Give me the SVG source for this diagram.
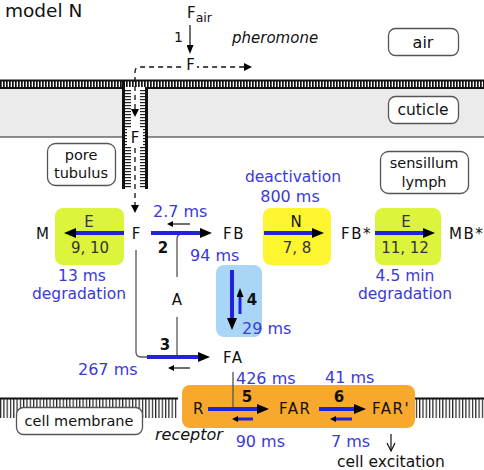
<svg xmlns="http://www.w3.org/2000/svg" width="484" height="470" viewBox="0 0 484 470">
<defs>
<style>
text{font-family:"DejaVu Sans","Liberation Sans",sans-serif;}
.lb{font-size:15px;fill:#111;}
.sp{font-size:15px;fill:#111;letter-spacing:1.5px;}
.bl{font-size:16px;fill:#3a3ad8;}
.num{font-size:15px;font-weight:bold;fill:#111;}
.en{font-size:15px;fill:#333;}
.it{font-size:15px;font-style:italic;fill:#111;}
.mid{text-anchor:middle;}
.box{fill:#fff;stroke:#555;stroke-width:1.3;}
.rx{stroke:#2222dd;stroke-width:4;fill:none;}
.bk{stroke:#2222dd;stroke-width:3;fill:none;}
.cat{stroke:#555;stroke-width:1.3;fill:none;}
.thin{stroke:#111;stroke-width:1.2;fill:none;}
.dash{stroke:#111;stroke-width:1.3;fill:none;stroke-dasharray:5 4;}
.wall{stroke:#111;stroke-width:3;fill:none;}
</style>
<pattern id="vt" width="3" height="10" patternUnits="userSpaceOnUse"><rect x="0" y="0" width="1.7" height="10" fill="#111"/></pattern>
<pattern id="vt2" width="3.3" height="30" patternUnits="userSpaceOnUse"><rect x="0" y="0" width="1.2" height="30" fill="#222"/></pattern>
<pattern id="ht" width="20" height="3" patternUnits="userSpaceOnUse"><rect x="0" y="0" width="20" height="1.2" fill="#222"/></pattern>
<marker id="ah" markerUnits="userSpaceOnUse" viewBox="0 0 12 10" refX="0" refY="5" markerWidth="12" markerHeight="10" orient="auto"><path d="M0,0L12,5L0,10z" fill="#000"/></marker>
<marker id="am" markerUnits="userSpaceOnUse" viewBox="0 0 9 7" refX="0" refY="3.5" markerWidth="9" markerHeight="7" orient="auto"><path d="M0,0L9,3.5L0,7z" fill="#000"/></marker>
<marker id="as" markerUnits="userSpaceOnUse" viewBox="0 0 6 6" refX="0" refY="3" markerWidth="6" markerHeight="6" orient="auto"><path d="M0,0L6,3L0,6z" fill="#000"/></marker>
<marker id="ad" markerUnits="userSpaceOnUse" viewBox="0 0 8 8" refX="0" refY="4" markerWidth="8" markerHeight="8" orient="auto-start-reverse"><path d="M0,0L8,4L0,8z" fill="#000"/></marker>
<marker id="av" markerUnits="userSpaceOnUse" viewBox="0 0 10 10" refX="9" refY="5" markerWidth="10" markerHeight="10" orient="auto"><path d="M1,1L9,5L1,9" fill="none" stroke="#111" stroke-width="1.2"/></marker>
</defs>
<rect width="484" height="470" fill="#fff"/>

<g id="structure">
  <rect x="0" y="88" width="123" height="49" fill="#ebebeb"/>
  <rect x="147" y="88" width="337" height="49" fill="#ebebeb"/>
  <line x1="0" y1="137" x2="123" y2="137" stroke="#222" stroke-width="1.2"/>
  <line x1="147" y1="137" x2="484" y2="137" stroke="#222" stroke-width="1.2"/>
  <rect x="0" y="81" width="484" height="6" fill="url(#vt)"/>
  <line x1="0" y1="80.5" x2="484" y2="80.5" stroke="#111" stroke-width="2"/>
  <line x1="0" y1="88" x2="123" y2="88" stroke="#111" stroke-width="2"/>
  <line x1="147" y1="88" x2="484" y2="88" stroke="#111" stroke-width="2"/>
  <rect x="125" y="89" width="6" height="99" fill="url(#ht)"/>
  <rect x="140" y="89" width="5.5" height="99" fill="url(#ht)"/>
  <line class="wall" x1="123.5" y1="80" x2="123.5" y2="189"/>
  <line class="wall" x1="146.5" y1="87" x2="146.5" y2="189"/>
  <rect x="0" y="399" width="178" height="19" fill="url(#vt2)"/>
  <line x1="0" y1="398.5" x2="178" y2="398.5" stroke="#111" stroke-width="2"/>
  <rect x="415" y="399" width="69" height="19" fill="url(#vt2)"/>
  <line x1="415" y1="398.5" x2="484" y2="398.5" stroke="#111" stroke-width="2"/>
</g>

<g id="title"><text class="lb" x="5" y="17" style="font-size:18.5px">model N</text></g>

<g id="box-air"><rect class="box" x="388.5" y="28.5" width="70" height="27" rx="7"/><text class="lb mid" x="423" y="48" style="font-size:16px">air</text></g>
<g id="box-cuticle"><rect class="box" x="388.5" y="96.5" width="70" height="27" rx="7"/><text class="lb mid" x="423" y="115" style="font-size:15.5px">cuticle</text></g>
<g id="box-pore"><rect class="box" x="47.5" y="143.5" width="68" height="42" rx="8"/><text class="lb mid" x="81" y="160" style="font-size:14.5px">pore</text><text class="lb mid" x="81" y="178" style="font-size:14.5px">tubulus</text></g>
<g id="box-lymph"><rect class="box" x="380.5" y="151.5" width="88" height="42" rx="8"/><text class="lb mid" x="424" y="168" style="font-size:14.5px">sensillum</text><text class="lb mid" x="424" y="187" style="font-size:14.5px">lymph</text></g>
<g id="box-membrane"><rect class="box" x="16.5" y="407.5" width="126" height="27" rx="7"/><text class="lb mid" x="79" y="426" style="font-size:14.5px">cell membrane</text></g>

<g id="enzyme-E1"><rect x="55" y="208" width="69" height="57" rx="8" fill="#dcf43c"/><text class="en mid" x="89" y="227">E</text><text class="en mid" x="90" y="253">9, 10</text></g>
<g id="enzyme-N"><rect x="263" y="208" width="68" height="57" rx="8" fill="#fdf52e"/><text class="lb mid" x="296" y="227">N</text><text class="en mid" x="297" y="253">7, 8</text></g>
<g id="enzyme-E2"><rect x="375" y="208" width="66" height="57" rx="8" fill="#dcf43c"/><text class="en mid" x="406" y="227">E</text><text class="en mid" x="405" y="253">11, 12</text></g>
<g id="box-r4"><rect x="216" y="265" width="46" height="72" rx="8" fill="#a9d6f7"/></g>
<g id="box-receptor"><rect x="182" y="385" width="233" height="43" rx="8" fill="#f8a82c"/></g>

<g id="connectors">
  <path class="dash" d="M135,109V72Q135,67 140,67H244" marker-start="url(#ad)" marker-end="url(#ad)"/>
  <path class="dash" d="M135,148V205" marker-end="url(#ad)"/>
  <path class="thin" d="M190,25V45" marker-end="url(#am)"/>
  <path class="cat" d="M136,250V352Q136,357 141,357H150"/>
  <path class="cat" d="M177,277V239Q177,234 182,234"/>
  <path class="cat" d="M177,317V356"/>
  <path class="cat" d="M233,372V408"/>
  <path class="rx" d="M124,233H76" marker-end="url(#ah)"/>
  <path class="rx" d="M151,233H200" marker-end="url(#ah)"/>
  <path class="thin" d="M190,224H173" marker-end="url(#as)"/>
  <path class="rx" d="M264,233H312" marker-end="url(#ah)"/>
  <path class="rx" d="M375,233H423" marker-end="url(#ah)"/>
  <path class="rx" d="M232,270V318" marker-end="url(#ah)"/>
  <path class="bk" d="M240,314V297" marker-end="url(#am)"/>
  <path class="rx" d="M147,357H198" marker-end="url(#ah)"/>
  <path class="thin" d="M190,368H174" marker-end="url(#as)"/>
  <path class="rx" d="M208,409H257" marker-end="url(#ah)"/>
  <path class="bk" d="M253,419H238" marker-end="url(#as)"/>
  <path class="rx" d="M319,409H354" marker-end="url(#ah)"/>
  <path class="bk" d="M352,419H336" marker-end="url(#as)"/>
  <path class="thin" d="M391,434V451" marker-end="url(#av)"/>
</g>

<g id="node-Fair"><text class="lb" x="187" y="18">F<tspan style="font-size:12.5px" dy="3.5">air</tspan></text></g>
<g id="node-F-air"><rect x="184" y="58" width="13" height="15" fill="#fff"/><text class="lb mid" x="190.5" y="70">F</text></g>
<g id="node-F-pore"><rect x="127" y="128" width="16" height="19" fill="#fff"/><text class="lb mid" x="135" y="143">F</text></g>
<g id="node-M"><text class="lb mid" x="42.5" y="239">M</text></g>
<g id="node-F"><text class="lb mid" x="136" y="239">F</text></g>
<g id="node-FB"><text class="sp" x="223" y="239">FB</text></g>
<g id="node-FBs"><text class="sp" x="341" y="239">FB*</text></g>
<g id="node-MBs"><text class="sp" x="449" y="239">MB*</text></g>
<g id="node-A"><text class="lb mid" x="177" y="305">A</text></g>
<g id="node-FA"><text class="sp" x="223" y="363">FA</text></g>
<g id="node-R"><text class="lb" x="193" y="414">R</text></g>
<g id="node-FAR"><text class="sp" x="279" y="414">FAR</text></g>
<g id="node-FARp"><text class="sp" x="372" y="414">FAR'</text></g>

<g id="labels">
  <text class="lb" x="178.5" y="42" text-anchor="middle" style="font-size:14px">1</text>
  <text class="it" x="232" y="43">pheromone</text>
  <text class="bl mid" x="293" y="182" style="font-size:15.5px">deactivation</text>
  <text class="bl mid" x="290" y="202">800 ms</text>
  <text class="bl" x="153" y="217">2.7 ms</text>
  <text class="num mid" x="163" y="253">2</text>
  <text class="bl" x="190" y="261">94 ms</text>
  <text class="bl mid" x="82" y="281" style="font-size:15.5px">13 ms</text>
  <text class="bl mid" x="79" y="299" style="font-size:15.5px">degradation</text>
  <text class="bl mid" x="405" y="281" style="font-size:15.5px">4.5 min</text>
  <text class="bl mid" x="405" y="299" style="font-size:15.5px">degradation</text>
  <text class="num mid" x="252" y="305">4</text>
  <text class="bl" x="242" y="334">29 ms</text>
  <text class="num mid" x="165" y="350">3</text>
  <text class="bl" x="78" y="375">267 ms</text>
  <text class="bl" x="236" y="384">426 ms</text>
  <text class="bl" x="325" y="383">41 ms</text>
  <text class="num mid" x="247" y="402">5</text>
  <text class="num mid" x="339" y="402">6</text>
  <text class="it" x="155" y="440" style="font-size:16px">receptor</text>
  <text class="bl" x="285" y="447" text-anchor="end">90 ms</text>
  <text class="bl" x="331" y="447">7 ms</text>
  <text class="lb" x="337" y="467" style="font-size:15.5px">cell excitation</text>
</g>
</svg>
